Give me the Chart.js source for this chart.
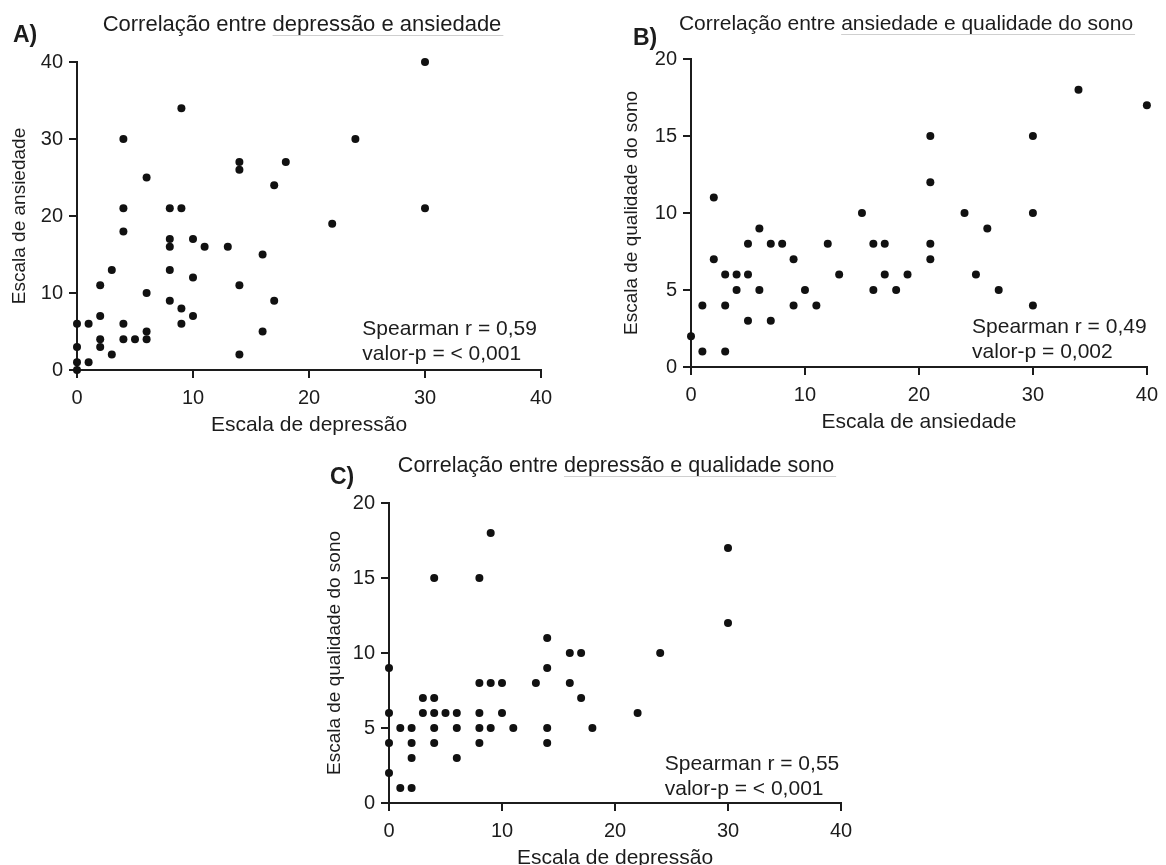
<!DOCTYPE html>
<html lang="pt">
<head>
<meta charset="utf-8">
<title>Correlações</title>
<script src="https://cdn.jsdelivr.net/npm/chart.js@4.4.1/dist/chart.umd.min.js"></script>
<style>
  html, body { margin: 0; padding: 0; background: #fff; overflow: hidden; }
  body { width: 1166px; height: 865px; position: relative; }
  canvas { position: absolute; }
</style>
</head>
<body>
<canvas id="chartA"></canvas>
<canvas id="chartB"></canvas>
<canvas id="chartC"></canvas>
<script>
// Dados
const depA = [9, 4, 14, 14, 18, 6, 17, 4, 8, 9, 4, 8, 8, 10, 11, 13, 16, 3, 8, 10, 2, 14, 6, 8, 17,
  9, 2, 10, 0, 1, 4, 9, 6, 16, 2, 4, 5, 6, 2, 0, 3, 14, 0, 1, 0, 30, 24, 30, 22];
const ansA = [34, 30, 27, 26, 27, 25, 24, 21, 21, 21, 18, 17, 16, 17, 16, 16, 15, 13, 13, 12, 11, 11, 10, 9, 9,
  8, 7, 7, 6, 6, 6, 6, 5, 5, 4, 4, 4, 4, 3, 3, 2, 2, 1, 1, 0, 40, 30, 21, 19];

const ansB = [2, 15, 6, 5, 7, 8, 12, 16, 17, 2, 9, 3, 4, 5, 13, 17, 19, 4, 6, 10, 16, 18, 1, 3, 9, 11,
  5, 7, 0, 1, 3, 34, 40, 21, 30, 21, 24, 30, 26, 21, 21, 25, 27, 30];
const sonoB = [11, 10, 9, 8, 8, 8, 8, 8, 8, 7, 7, 6, 6, 6, 6, 6, 6, 5, 5, 5, 5, 5, 4, 4, 4, 4,
  3, 3, 2, 1, 1, 18, 17, 15, 15, 12, 10, 10, 9, 8, 7, 6, 5, 4];

const depC = [9, 4, 8, 14, 0, 14, 16, 17, 8, 9, 10, 13, 16, 3, 4, 17, 0, 3, 4, 5, 6, 8, 10,
  1, 2, 4, 6, 8, 9, 11, 14, 18, 0, 2, 4, 8, 14, 2, 6, 0, 1, 2, 30, 30, 24, 22];
const sonoC = [18, 15, 15, 11, 9, 9, 10, 10, 8, 8, 8, 8, 8, 7, 7, 7, 6, 6, 6, 6, 6, 6, 6,
  5, 5, 5, 5, 5, 5, 5, 5, 5, 4, 4, 4, 4, 4, 3, 3, 2, 1, 1, 17, 12, 10, 6];

const ticks40 = [0, 10, 20, 30, 40];
const ticks20 = [0, 5, 10, 15, 20];

const statsA = ["Spearman r = 0,59", "valor-p = < 0,001"];
const statsB = ["Spearman r = 0,49", "valor-p = 0,002"];
const statsC = ["Spearman r = 0,55", "valor-p = < 0,001"];

const FONT = "'Liberation Sans', Arial, sans-serif";
const INK = "#1c1c1c";

// Posição de cada painel na página
const panels = [
  {
    id: "chartA", letter: "A)", title: "Correlação entre depressão e ansiedade",
    xLabel: "Escala de depressão", yLabel: "Escala de ansiedade",
    xs: depA, ys: ansA, xTicks: ticks40, yTicks: ticks40, stats: statsA,
    box: { x: 0, y: 0, w: 580, h: 438 }, area: { l: 77, t: 62, r: 541, b: 370 },
    letterAt: [13, 42], titleAt: [302, 31], titleSize: 22, statAt: [24.6, 4.5]
  },
  {
    id: "chartB", letter: "B)", title: "Correlação entre ansiedade e qualidade do sono",
    xLabel: "Escala de ansiedade", yLabel: "Escala de qualidade do sono",
    xs: ansB, ys: sonoB, xTicks: ticks40, yTicks: ticks20, stats: statsB,
    box: { x: 612, y: 0, w: 554, h: 435 }, area: { l: 79, t: 59, r: 540, b: 367 },
    letterAt: [633, 45], titleAt: [906, 30], titleSize: 21, statAt: [24.66, 2.2]
  },
  {
    id: "chartC", letter: "C)", title: "Correlação entre depressão e qualidade sono",
    xLabel: "Escala de depressão", yLabel: "Escala de qualidade do sono",
    xs: depC, ys: sonoC, xTicks: ticks40, yTicks: ticks20, stats: statsC,
    box: { x: 315, y: 440, w: 566, h: 431 }, area: { l: 74, t: 63, r: 526, b: 363 },
    letterAt: [330, 484], titleAt: [616, 472], titleSize: 21.5, statAt: [24.4, 2.23]
  }
];

// Letra, título e estatística de cada painel
const panelText = {
  id: "panelText",
  afterDraw(chart, args, opts) {
    const p = opts.panel;
    const ctx = chart.ctx;
    const sx = chart.scales.x, sy = chart.scales.y;
    ctx.save();
    ctx.fillStyle = INK;
    ctx.textBaseline = "alphabetic";

    ctx.font = "bold 23px " + FONT;
    ctx.textAlign = "left";
    ctx.fillText(p.letter, p.letterAt[0] - p.box.x, p.letterAt[1] - p.box.y);

    ctx.font = p.titleSize + "px " + FONT;
    ctx.textAlign = "center";
    const tx = p.titleAt[0] - p.box.x, ty = p.titleAt[1] - p.box.y;
    ctx.fillText(p.title, tx, ty);
    // sublinhado cinza claro (como no original)
    const full = ctx.measureText(p.title).width;
    const head = ctx.measureText(p.title.split(" ").slice(0, 2).join(" ") + " ").width;
    ctx.strokeStyle = "#cfcfcf";
    ctx.lineWidth = 1;
    ctx.beginPath();
    ctx.moveTo(tx - full / 2 + head, ty + 4.5);
    ctx.lineTo(tx + full / 2 + 2, ty + 4.5);
    ctx.stroke();

    ctx.font = "21px " + FONT;
    ctx.textAlign = "left";
    const px = sx.getPixelForValue(p.statAt[0]);
    const py = sy.getPixelForValue(p.statAt[1]);
    p.stats.forEach((s, i) => ctx.fillText(s, px, py + i * 25));
    ctx.restore();
  }
};

function axis(ticks, label, isX, size) {
  return {
    type: "linear",
    min: ticks[0],
    max: ticks[ticks.length - 1],
    afterBuildTicks: s => { s.ticks = ticks.map(v => ({ value: v })); },
    afterFit: s => { if (isX) s.height = size; else s.width = size; },
    border: { display: true, color: INK, width: 2 },
    grid: { display: true, drawOnChartArea: false, drawTicks: true, tickLength: 8, tickColor: INK, lineWidth: 2 },
    ticks: { color: INK, font: { family: FONT, size: 20 }, padding: isX ? 8 : 6, autoSkip: false, maxRotation: 0 },
    title: {
      display: true, text: label, color: INK,
      font: { family: FONT, size: isX ? 21 : 19 },
      padding: isX ? { top: 0, bottom: 0 } : { top: 8, bottom: 0 }
    }
  };
}

function makeChart(p) {
  const cv = document.getElementById(p.id);
  cv.width = p.box.w;
  cv.height = p.box.h;
  cv.style.left = p.box.x + "px";
  cv.style.top = p.box.y + "px";
  cv.style.width = p.box.w + "px";
  cv.style.height = p.box.h + "px";

  return new Chart(cv, {
    type: "scatter",
    data: {
      datasets: [{
        data: p.xs.map((x, i) => ({ x: x, y: p.ys[i] })),
        backgroundColor: "#111",
        borderWidth: 0,
        pointRadius: 4,
        clip: false
      }]
    },
    options: {
      responsive: false,
      animation: false,
      events: [],
      layout: { padding: { left: 0, top: p.area.t, right: p.box.w - p.area.r, bottom: 0 } },
      plugins: {
        legend: { display: false },
        tooltip: { enabled: false },
        panelText: { panel: p }
      },
      scales: {
        x: axis(p.xTicks, p.xLabel, true, p.box.h - p.area.b),
        y: axis(p.yTicks, p.yLabel, false, p.area.l)
      }
    },
    plugins: [panelText]
  });
}

panels.forEach(makeChart);
</script>
</body>
</html>
